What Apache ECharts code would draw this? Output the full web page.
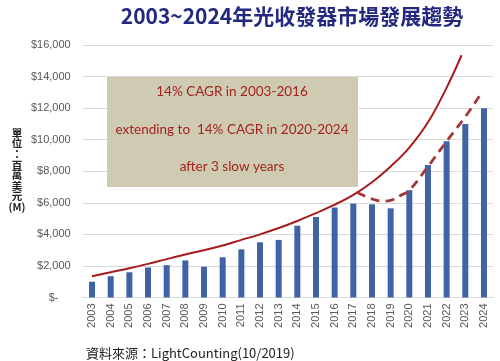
<!DOCTYPE html>
<html>
<head>
<meta charset="utf-8">
<script src="https://cdn.jsdelivr.net/npm/echarts@6/dist/echarts.min.js"></script>
<style>html,body{margin:0;padding:0;background:#fff;}#c{width:500px;height:361px;}</style>
</head>
<body>
<div id="c"></div>
<script>
var years = ['2003','2004','2005','2006','2007','2008','2009','2010','2011','2012','2013','2014','2015','2016','2017','2018','2019','2020','2021','2022','2023','2024'];
var revenue = [1000,1350,1600,1900,2050,2350,1950,2550,3050,3500,3650,4550,5100,5700,5950,5900,5650,6800,8400,9900,11000,12000];
var trendYears = [2003,2004,2005,2006,2007,2008,2009,2010,2011,2012,2013,2014,2015,2016,2017,2018,2019,2020,2021,2022,2022.8];
var trendValues = [1350,1600,1850,2130,2430,2720,3000,3300,3650,4000,4400,4850,5350,5880,6500,7300,8300,9500,11100,13300,15350];
var slowYears = [2017.2,2018,2018.6,2019,2019.5,2020,2021,2022,2023,2023.75];
var slowValues = [6650,6250,6100,6150,6450,6800,8300,9900,11450,12750];
var yTicks = [0,2000,4000,6000,8000,10000,12000,14000,16000];
var noteLines = ['14% CAGR in 2003-2016','extending to  14% CAGR in 2020-2024','after 3 slow years'];

function pairs(xs, ys){ return xs.map(function(x,i){ return [x, ys[i]]; }); }
function money(v){ if(v===0) return '$-    '; return '$' + v.toLocaleString('en-US'); }

var noteFont = '13.5px Lato, "Open Sans", sans-serif';
var chart = echarts.init(document.getElementById('c'), null, {renderer:'canvas'});
chart.setOption({
  animation:false,
  title:{
    text:'2003~2024年光收發器市場發展趨勢',
    left:287, top:1, textAlign:'center',
    textStyle:{fontFamily:'"Noto Sans CJK TC", sans-serif', fontSize:21, fontWeight:'bold', color:'#23297f'}
  },
  grid:{left:82.7, right:6.7, top:45, bottom:63.5},
  xAxis:[{
    type:'category', data:years,
    axisLine:{show:true, lineStyle:{color:'#d9d9d9'}},
    axisTick:{show:false},
    axisLabel:{rotate:90, color:'#595959', fontSize:11, fontFamily:'Liberation Sans, Arial', margin:6, interval:0}
  },{
    type:'value', min:2002.5, max:2024.5, show:false
  }],
  yAxis:{
    type:'value', min:0, max:16000, interval:2000,
    splitLine:{lineStyle:{color:'#d9d9d9'}},
    axisLine:{show:false}, axisTick:{show:false},
    axisLabel:{color:'#595959', fontSize:11, fontFamily:'Liberation Sans, Arial', margin:12, formatter:function(v){return money(v);}}
  },
  graphic:[
    {type:'rect', shape:{x:107, y:77, width:251, height:110}, style:{fill:'#cfcbb3'}, z:1},
    {type:'text', x:232, y:92, style:{text:noteLines[0], fill:'#a3231f', font:noteFont, textAlign:'center', textVerticalAlign:'middle'}, z:2},
    {type:'text', x:232, y:130, style:{text:noteLines[1], fill:'#a3231f', font:noteFont, textAlign:'center', textVerticalAlign:'middle'}, z:2},
    {type:'text', x:232, y:167, style:{text:noteLines[2], fill:'#a3231f', font:noteFont, textAlign:'center', textVerticalAlign:'middle'}, z:2},
    {type:'text', x:17, y:170, style:{text:'單\n位\n：\n百\n萬\n美\n元\n(M)', fill:'#222', font:'bold 10.5px "Noto Sans CJK TC", sans-serif', textAlign:'center', textVerticalAlign:'middle', lineHeight:10.6}},
    {type:'text', x:86, y:353, style:{text:'資料來源：LightCounting(10/2019)', fill:'#222', font:'13px "Noto Sans CJK TC", sans-serif', textVerticalAlign:'middle'}}
  ],
  series:[
    {type:'bar', data:revenue, barWidth:6, itemStyle:{color:'#4062a6'}, z:3},
    {type:'line', xAxisIndex:1, data:pairs(trendYears, trendValues), smooth:0.4, showSymbol:false, symbol:'none',
     lineStyle:{color:'#a61c1c', width:2}, z:4},
    {type:'line', xAxisIndex:1, data:pairs(slowYears, slowValues), smooth:0.4, showSymbol:false, symbol:'none',
     lineStyle:{color:'#a03a3a', width:2.8, type:[9,6]}, z:4}
  ]
});
</script>
</body>
</html>
